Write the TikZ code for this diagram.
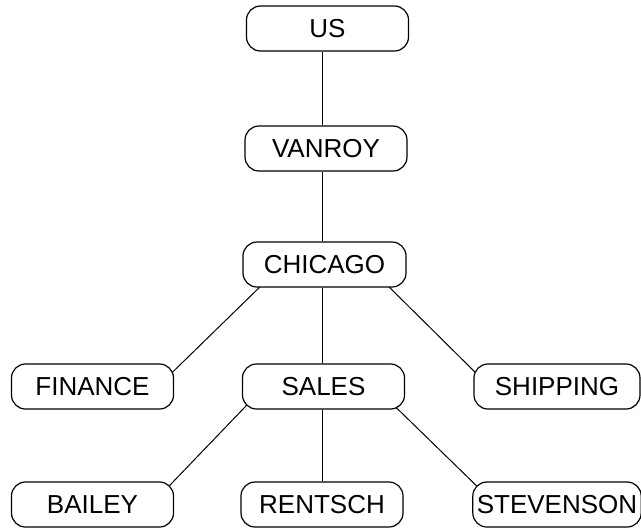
\documentclass[tikz,border=0pt]{standalone}
\usepackage{fontspec}
\setmainfont{Liberation Sans}
\usetikzlibrary{backgrounds}
\begin{document}
\begin{tikzpicture}[x=0.5pt,y=-0.5pt]
\tikzset{BoxStyle/.style = {draw, fill=white, rounded corners=7pt, minimum width=81pt, minimum height=22.5pt, inner xsep=2pt, line width=0.6pt, font=\fontsize{13}{15}\selectfont},
EdgeStyle/.style = {line width=0.5pt}
}
\useasboundingbox (0,0) rectangle (641,527);

    % Draw boxes
   \node[BoxStyle] (us) at (327.5,28.5) {US};
   \node[BoxStyle] (vanroy) at (326,148.5) {VANROY};
   \node[BoxStyle, minimum width=81.5pt] (chicago) at (324.5,264.5) {CHICAGO};

   \node[BoxStyle] (finance) at (92.5,386.5) {FINANCE};
   \node[BoxStyle] (sales) at (323.5,386.5) {SALES};
   \node[BoxStyle, minimum width=83pt] (shipping) at (557,386.5) {SHIPPING};

   \node[BoxStyle] (bailey) at (92.5,504.5) {BAILEY};
   \node[BoxStyle] (rentsch) at (322,504.5) {RENTSCH};
   \node[BoxStyle, minimum width=83pt] (stevenson) at (557,504.5) {STEVENSON};

    % Draw edges
\begin{scope}[on background layer]
   \draw[EdgeStyle] (us.south -| rentsch) -- (vanroy.north -| rentsch);
   \draw[EdgeStyle] (vanroy.south -| rentsch) -- (chicago.north -| rentsch);
   \draw[EdgeStyle] (chicago.south -| rentsch) -- (sales.north -| rentsch);
   \draw[EdgeStyle] (sales.south -| rentsch) -- (rentsch.north);

   \draw[EdgeStyle] ([xshift=12pt,yshift=3.5pt]chicago.south west) -- ([xshift=-4.5pt,yshift=-8pt]finance.north east);
   \draw[EdgeStyle] ([xshift=-12pt,yshift=3.5pt]chicago.south east) -- ([xshift=4.5pt,yshift=-8pt]shipping.north west);

   \draw[EdgeStyle] ([xshift=7pt,yshift=7pt]sales.south west) -- ([xshift=-7pt,yshift=-7pt]bailey.north east);
   \draw[EdgeStyle] ([xshift=-7pt,yshift=3.5pt]sales.south east) -- ([xshift=3.5pt,yshift=-3.5pt]stevenson.north west);
\end{scope}
\end{tikzpicture}
\end{document}
